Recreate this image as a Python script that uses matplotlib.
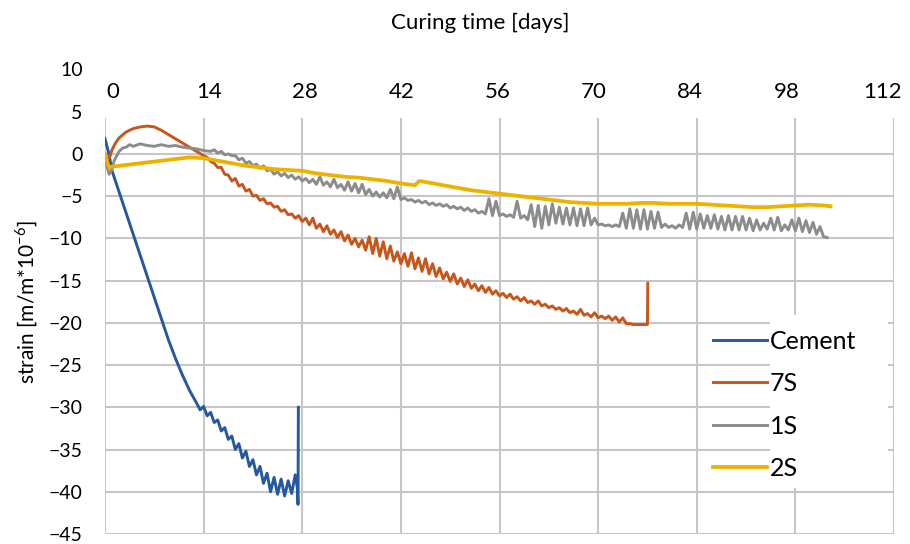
import matplotlib.pyplot as plt
from matplotlib.patches import Rectangle

plt.rcParams['font.family'] = ['Lato', 'DejaVu Sans']

# x axis: curing time [days], y axis: strain [m/m*10^-6]
x_ticks = [0, 14, 28, 42, 56, 70, 84, 98, 112]
y_ticks = [-45, -40, -35, -30, -25, -20, -15, -10, -5, 0, 5, 10]
series_names = ['Cement', '7S', '1S', '2S']
series_colors = ['#2458A0', '#C8561B', '#8C8C8C', '#EDB100']

cement_days = [0, 0.5, 1, 2, 3, 4, 5, 6, 7, 8, 9, 10, 11, 12, 13,
               13.5, 14, 14.5, 15, 15.5, 16, 16.5, 17, 17.5, 18,
               18.5, 19, 19.5, 20, 20.5, 21, 21.5, 22, 22.5, 23,
               23.5, 24, 24.5, 25, 25.5, 26, 26.5, 27, 27.3, 27.4, 27.45]
cement_strain = [1.8, 0.2, -2.0, -4.5, -7.0, -9.5, -12.0, -14.5, -17.0, -19.5, -22.0, -24.2, -26.2, -28.0, -29.5,
                 -30.3, -29.9, -31.0, -30.6, -31.8, -31.5, -32.8, -32.4, -33.8, -33.4,
                 -35.0, -34.3, -36.0, -35.2, -37.0, -36.2, -38.0, -37.0, -39.0, -37.8,
                 -40.0, -38.3, -40.3, -38.5, -40.5, -38.7, -40.2, -38.0, -39.5, -41.5, -30.0]

s7_days = [0, 0.3, 0.7, 1, 1.5, 2, 3, 4, 5, 6, 7, 8, 9, 10, 11, 12, 13,
           14, 14.5, 15, 15.5, 16, 16.5, 17, 17.5, 18, 18.5,
           19, 19.5, 20, 20.5, 21, 21.5, 22, 22.5, 23, 23.5,
           24, 24.5, 25, 25.5, 26, 26.5, 27, 27.5, 28, 28.5,
           29, 29.5, 30, 30.5, 31, 31.5, 32, 32.5, 33, 33.5,
           34, 34.5, 35, 35.5, 36, 36.5, 37, 37.5, 38, 38.5,
           39, 39.5, 40, 40.5, 41, 41.5, 42, 42.5, 43, 43.5,
           44, 44.5, 45, 45.5, 46, 46.5, 47, 47.5, 48, 48.5,
           49, 49.5, 50, 50.5, 51, 51.5, 52, 52.5, 53, 53.5,
           54, 54.5, 55, 55.5, 56, 56.5, 57, 57.5, 58, 58.5,
           59, 59.5, 60, 60.5, 61, 61.5, 62, 62.5, 63, 63.5,
           64, 64.5, 65, 65.5, 66, 66.5, 67, 67.5, 68, 68.5,
           69, 69.5, 70, 70.5, 71, 71.5, 72, 72.5, 73, 73.5,
           74, 74.5, 75, 75.5, 76, 76.5, 77, 77.05]
s7_strain = [0.0, -0.8, -0.3, 0.5, 1.3, 1.9, 2.6, 3.0, 3.2, 3.3, 3.2, 2.8, 2.3, 1.8, 1.3, 0.8, 0.3,
             -0.2, -0.4, -0.9, -1.1, -1.6, -1.6, -2.4, -2.5, -3.2, -2.9,
             -3.8, -3.6, -4.4, -4.2, -5.0, -4.9, -5.5, -5.3, -5.9, -5.8,
             -6.3, -6.2, -6.8, -6.6, -7.2, -7.1, -7.6, -7.3, -8.0, -7.6,
             -8.4, -7.6, -8.8, -8.3, -9.2, -8.5, -9.5, -9.0, -9.9, -9.2,
             -10.3, -9.6, -10.7, -10.0, -11.0, -10.2, -11.4, -9.8, -11.8, -10.0,
             -12.1, -10.4, -12.4, -10.9, -12.7, -11.6, -13.0, -11.8, -13.3, -11.7,
             -13.6, -12.3, -13.9, -12.4, -14.2, -13.0, -14.5, -13.5, -14.8, -14.0,
             -15.1, -14.2, -15.4, -14.7, -15.7, -14.9, -15.9, -15.4, -16.2, -15.6,
             -16.4, -15.8, -16.6, -16.2, -16.8, -16.5, -17.0, -16.6, -17.2, -16.9,
             -17.4, -17.0, -17.6, -17.4, -17.8, -17.4, -18.0, -17.8, -18.2, -18.0,
             -18.4, -18.2, -18.6, -18.3, -18.8, -18.6, -19.0, -18.4, -19.1, -18.9,
             -19.3, -18.8, -19.4, -19.2, -19.5, -19.2, -19.7, -19.3, -19.9, -19.4,
             -20.1, -20.1, -20.2, -20.2, -20.2, -20.2, -20.2, -15.3]

s1_days = [0, 0.3, 0.6, 0.9, 1.3, 2, 2.5, 3, 3.5, 4, 5, 6, 7, 8, 9, 10, 11, 12, 13, 14,
           15, 15.5, 16, 16.5, 17, 17.5,
           18, 18.5, 19, 19.5, 20, 20.5, 21, 21.5, 22, 22.5,
           23, 23.5, 24, 24.5, 25, 25.5, 26, 26.5, 27, 27.5,
           28, 28.5, 29, 29.5, 30, 30.5, 31, 31.5, 32, 32.5,
           33, 33.5, 34, 34.5, 35, 35.5, 36, 36.5, 37, 37.5,
           38, 38.5, 39, 39.5, 40, 40.5, 41, 41.5, 42, 42.5,
           43, 43.5, 44, 44.5, 45, 45.5, 46, 46.5, 47, 47.5,
           48, 48.5, 49, 49.5, 50, 50.5, 51, 51.5, 52, 52.5,
           53, 53.5, 54, 54.5, 55, 55.5, 56, 56.5, 57, 57.5,
           58, 58.5, 59, 59.5, 60, 60.5, 61, 61.5, 62, 62.5,
           63, 63.5, 64, 64.5, 65, 65.5, 66, 66.5, 67, 67.5,
           68, 68.5, 69, 69.5, 70, 70.5, 71, 71.5, 72, 72.5,
           73, 73.5, 74, 74.5, 75, 75.5, 76, 76.5, 77, 77.5,
           78, 78.5, 79, 79.5, 80, 80.5, 81, 81.5, 82, 82.5,
           83, 83.5, 84, 84.5, 85, 85.5, 86, 86.5, 87, 87.5,
           88, 88.5, 89, 89.5, 90, 90.5, 91, 91.5, 92, 92.5,
           93, 93.5, 94, 94.5, 95, 95.5, 96, 96.5, 97, 97.5,
           98, 98.5, 99, 99.5, 100, 100.5, 101, 101.5, 102, 102.5]
s1_strain = [0.0, -1.6, -2.4, -2.0, -0.8, 0.3, 0.7, 0.8, 1.1, 0.9, 1.2, 1.0, 0.9, 1.1, 0.9, 1.0, 0.8, 0.7, 0.6, 0.4,
             0.3, 0.5, 0.1, 0.3, -0.1, 0.0,
             -0.2, -0.2, -0.7, -0.5, -1.1, -0.9, -1.4, -1.2, -1.7, -1.4,
             -2.0, -1.8, -2.4, -2.1, -2.6, -2.3, -2.8, -2.5, -3.0, -2.7,
             -3.2, -2.9, -3.4, -3.0, -3.6, -2.7, -3.7, -3.3, -3.9, -3.0,
             -4.0, -3.6, -4.3, -3.3, -4.4, -3.5, -4.6, -3.6, -4.8, -4.2,
             -5.0, -4.5, -5.1, -4.6, -5.2, -4.2, -5.3, -3.9, -5.4, -5.2,
             -5.5, -5.4, -5.7, -5.5, -5.8, -5.6, -6.0, -5.8, -6.1, -5.9,
             -6.2, -6.0, -6.4, -6.2, -6.5, -6.3, -6.7, -6.4, -6.8, -6.6,
             -7.0, -6.8, -7.1, -5.3, -7.3, -5.6, -7.3, -7.1, -7.4, -7.2,
             -7.5, -5.6, -7.6, -7.3, -7.8, -6.0, -8.6, -6.1, -8.8, -6.2,
             -8.4, -5.9, -8.2, -6.3, -8.3, -6.4, -8.4, -6.4, -8.5, -6.5,
             -8.5, -6.4, -8.4, -7.6, -8.4, -8.3, -8.5, -8.4, -8.6, -8.4,
             -8.6, -7.0, -8.8, -6.5, -8.8, -6.6, -8.9, -6.6, -8.9, -6.8,
             -8.8, -6.9, -8.7, -8.3, -8.7, -8.5, -8.8, -8.4, -8.7, -7.0,
             -8.9, -6.9, -8.9, -7.1, -8.8, -7.3, -8.8, -7.2, -8.9, -7.4,
             -9.0, -7.3, -9.0, -7.4, -9.0, -7.4, -9.0, -7.6, -9.1, -7.8,
             -9.0, -8.2, -8.9, -7.6, -9.0, -7.5, -9.1, -8.4, -9.0, -7.8,
             -9.1, -7.6, -9.2, -7.9, -9.3, -8.1, -9.5, -8.6, -9.8, -9.9]

s2_days = [0, 0.3, 0.6, 1, 2, 4, 6, 8, 10, 12, 14, 16, 18, 20, 22, 24, 26, 28, 30,
           32, 34, 36, 38, 40, 42, 44, 44.6, 46, 48, 50, 52, 54, 56, 58, 60,
           62, 64, 66, 68, 70, 72, 74, 76, 78, 80, 82, 84, 86, 88, 90, 92,
           94, 96, 98, 100, 102, 103]
s2_strain = [0.0, -1.0, -1.6, -1.5, -1.4, -1.2, -1.0, -0.8, -0.6, -0.4, -0.5, -0.8, -1.1, -1.4, -1.6, -1.8, -1.9, -2.0, -2.3,
             -2.5, -2.7, -2.8, -3.0, -3.2, -3.5, -3.7, -3.2, -3.4, -3.7, -4.0, -4.3, -4.5, -4.7, -4.9, -5.1,
             -5.3, -5.5, -5.7, -5.8, -5.9, -5.9, -5.9, -5.8, -5.8, -5.9, -5.9, -5.9, -6.0, -6.1, -6.2, -6.3,
             -6.3, -6.2, -6.1, -6.0, -6.1, -6.2]

fig = plt.figure(figsize=(9.1, 5.44), dpi=100)
ax = fig.add_axes([105 / 910, 10 / 544, 789 / 910, 464.5 / 544])
ax.set_xlim(0, 112)
ax.set_ylim(-45, 10)

grid_color = '#C6C6C6'
ax.hlines([t for t in y_ticks if t <= 0], 0, 112, color=grid_color, lw=1.5, zorder=0.5)
ax.vlines(x_ticks, -45, 4.2, color=grid_color, lw=1.5, zorder=0.5)

all_days = [cement_days, s7_days, s1_days, s2_days]
all_strain = [cement_strain, s7_strain, s1_strain, s2_strain]
widths = [2.1, 2.1, 2.1, 2.7]
for d, s, name, c, w in zip(all_days, all_strain, series_names, series_colors, widths):
    ax.plot(d, s, color=c, lw=w, label=name, zorder=2)

for sp in ax.spines.values():
    sp.set_visible(False)
ax.set_xticks([])
ax.set_yticks(y_ticks)
ax.tick_params(axis='y', length=0, pad=16, labelsize=14)

# tick labels of the time axis sit inside the top of the frame
top = ax.secondary_xaxis(0.93, functions=(lambda d: (d - 1.07) / 0.976,
                                          lambda v: 1.07 + 0.976 * v))
top.set_xticks(x_ticks)
top.tick_params(length=0, pad=0, labelsize=16)
top.spines['top'].set_visible(False)
top.spines['bottom'].set_visible(False)

ax.set_title('Curing time [days]', fontsize=16, x=0.475, y=1.07)
ax.set_ylabel('strain [m/m*10$^{\\mathregular{-6}}$]', fontsize=15)
ax.yaxis.set_label_coords(-0.082, 0.5)

ax.add_patch(Rectangle((0.843, 0.099), 0.150, 0.373, transform=ax.transAxes,
                       facecolor='white', edgecolor='none', zorder=1))
ax.legend(loc='upper left', bbox_to_anchor=(0.771, 0.44), frameon=False,
          fontsize=18, handlelength=2.15, handletextpad=0.12, labelspacing=0.78,
          borderpad=0, borderaxespad=0)

fig.savefig('out.png', dpi=100)
